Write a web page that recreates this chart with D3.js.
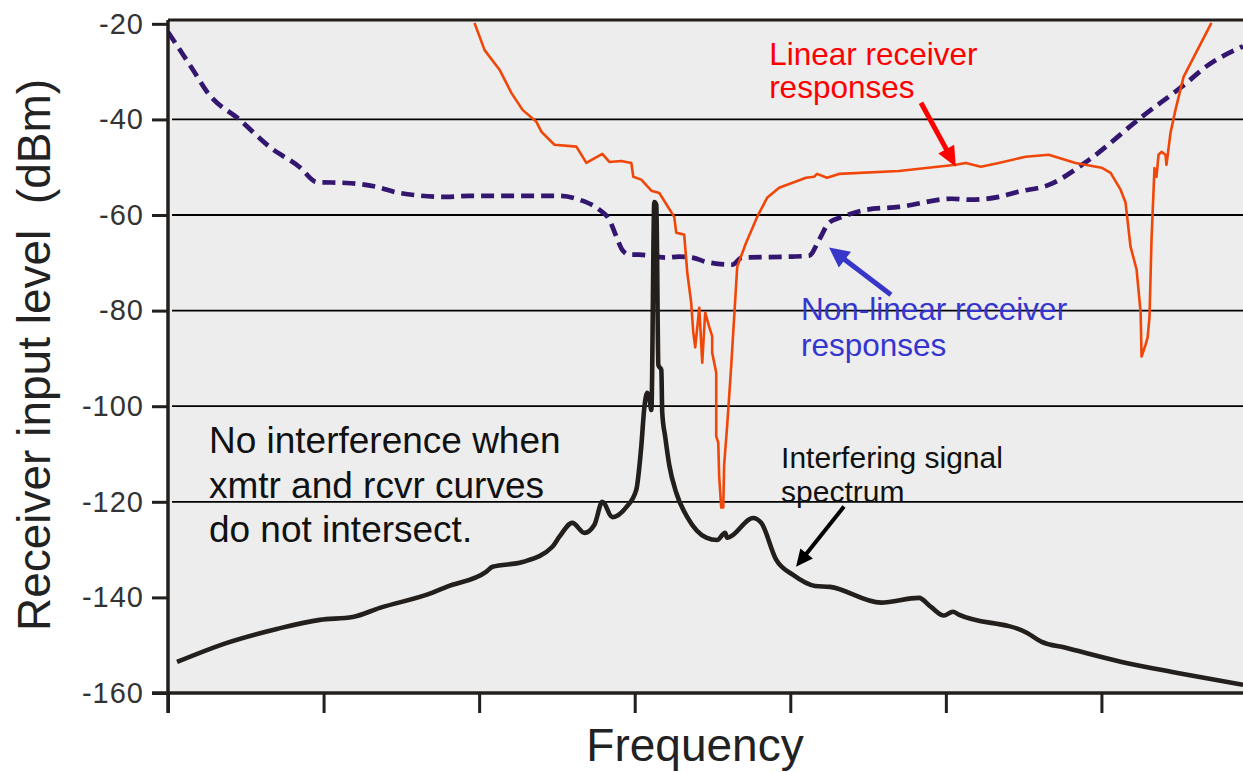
<!DOCTYPE html>
<html>
<head>
<meta charset="utf-8">
<script src="https://cdn.jsdelivr.net/npm/d3@7"></script>
<style>
    html, body { margin: 0; padding: 0; background: #fff; }
    svg { display: block; }
</style>
</head>
<body>
<div id="d3ResponseChart"></div>
<script>
const _WIDTH = 1243
const _HEIGHT = 772
const _MARGIN = {
    top: 20,
    left: 168,
    bottom: 79,
    right: 0,
}

// Data (frequency in arbitrary units, level in dBm)
// ===================================
const yTicks = [-20, -40, -60, -80, -100, -120, -140, -160]
const gridLevels = [-40, -60, -80, -100, -120]
const xTicks = [0, 10, 20, 30, 40, 50, 60]
const xMax = 69.1
const yMin = -160
const yMax = -19.2   // plot frame sits a little above the -20 tick

const nonLinearResponse = [
    [0, -21.7], [1.6, -29.6], [2.57, -34.5], [4.62, -40.1], [6.55, -45.8], [8.47, -50.0],
    [9.56, -53.1], [11.49, -53.3], [13.41, -54.1], [14.89, -55.4], [17.91, -56.2], [19.38, -56.0],
    [25.16, -56.0], [26.44, -56.8], [27.73, -58.9], [28.37, -61.0], [28.82, -64.5], [29.2, -67.3],
    [29.65, -68.3], [30.29, -68.3], [32.03, -68.9], [32.86, -68.7], [33.7, -68.9], [34.6, -69.8],
    [36.26, -70.4], [36.91, -68.9], [40.12, -68.7], [41.21, -68.5], [41.85, -65.2], [42.49, -61.6],
    [43.32, -60.4], [44.87, -58.9], [46.98, -58.3], [50.39, -56.6], [51.67, -56.8], [53.4, -56.2],
    [54.69, -55.1], [56.61, -53.7], [59.18, -48.5], [62.58, -39.5], [65.15, -33.2], [66.88, -28.6],
    [69.1, -24.7],
]

const linearResponse = [
    [19.7, -19.8], [20.35, -25.5], [21.31, -29.6], [22.08, -34.5], [22.79, -38.0], [23.68, -40.5],
    [24.01, -42.6], [24.84, -45.3], [26.25, -45.7], [26.89, -49.1], [27.92, -47.2], [28.37, -48.9],
    [29.14, -48.7], [29.78, -49.1], [29.91, -52.0], [30.42, -52.6], [31.07, -54.9], [31.58, -55.4],
    [32.54, -60.4], [32.67, -63.7], [33.18, -64.1], [33.38, -72.1], [33.63, -78.3], [33.76, -84.4],
    [33.89, -87.7], [34.15, -79.4], [34.34, -90.9], [34.53, -80.4], [34.79, -83.4], [34.98, -85.4],
    [34.98, -88.8], [35.24, -93.0], [35.24, -106.3], [35.37, -107.6], [35.43, -114.7], [35.56, -121.2],
    [35.69, -121.2], [35.75, -112.2], [35.94, -104.2], [36.2, -91.7], [36.59, -70.8], [37.16, -65.8],
    [37.87, -60.4], [38.51, -56.4], [39.28, -54.3], [41.01, -52.2], [41.53, -52.0], [41.72, -51.4],
    [42.36, -52.2], [43.13, -51.4], [46.98, -50.8], [50.64, -49.5], [51.28, -49.1], [52.25, -49.9],
    [53.4, -49.1], [55.13, -47.8], [56.61, -47.4], [58.34, -49.1], [60.01, -50.1], [60.59, -51.2],
    [61.23, -54.7], [61.55, -57.4], [61.87, -66.6], [62.26, -71.4], [62.52, -80.4], [62.58, -89.6],
    [62.84, -87.1], [62.97, -85.6], [63.09, -81.3], [63.22, -65.2], [63.41, -50.2], [63.54, -52.0],
    [63.67, -47.4], [63.86, -46.8], [64.12, -47.4], [64.18, -49.5], [64.44, -42.8], [64.76, -38.0],
    [65.28, -31.1], [67.07, -19.8],
]

const interferingSignal = [
    [0.58, -153.5], [3.79, -149.5], [7.0, -146.6], [9.76, -144.7], [11.87, -144.1], [13.61, -142.2],
    [17.01, -139.0], [17.91, -137.8], [20.47, -134.6], [20.86, -133.6], [22.79, -132.6], [24.71, -129.4],
    [25.16, -127.3], [25.99, -124.4], [26.77, -126.5], [27.41, -124.8], [27.92, -120.0], [28.56, -123.2],
    [29.46, -121.1], [30.1, -117.5], [30.42, -108.5], [30.62, -100.2], [30.81, -97.2], [30.94, -98.3],
    [31.07, -100.8], [31.26, -57.3], [31.39, -57.9], [31.52, -91.4], [31.71, -92.4], [31.77, -101.4],
    [31.96, -106.4], [32.22, -112.3], [32.67, -118.1], [33.38, -123.2], [34.6, -127.5], [35.3, -128.0],
    [35.81, -126.5], [35.94, -127.5], [36.14, -127.3], [37.61, -123.4], [38.13, -124.4], [39.09, -132.1],
    [40.18, -135.3], [41.59, -137.6], [42.55, -137.8], [45.83, -141.1], [48.27, -140.1], [49.04, -142.0],
    [49.87, -143.8], [50.45, -143.0], [50.83, -143.6], [55.2, -147.4], [56.16, -149.3], [57.64, -150.5],
    [61.3, -153.5], [64.89, -155.8], [69.1, -158.3],
]

// Annotation texts and arrows (positions in data units)
const labels = [
    { lines: ["Linear receiver", "responses"], at: [38.64, -28.6], size: 31.5, step: 33, color: "#ff0000" },
    { lines: ["Non-linear receiver", "responses"], at: [40.69, -81.9], size: 31.5, step: 36, color: "#3535cf" },
    { lines: ["Interfering signal", "spectrum"], at: [39.41, -113.0], size: 30, step: 34, color: "#111" },
    { lines: ["No interference when", "xmtr and rcvr curves", "do not intersect."], at: [2.63, -109.8], size: 37, step: 44.5, color: "#111" },
]
const arrows = [
    { from: [48.4, -36.5], to: [50.64, -49.9], color: "#ff0000", width: 5, head: 20, half: 9 },
    { from: [46.47, -76.7], to: [42.49, -66.8], color: "#3636c8", width: 5, head: 20, half: 10 },
    { from: [43.45, -121.0], to: [40.37, -133.6], color: "#000", width: 4, head: 17, half: 8 },
]


const draw = () => {
    const x = d3.scaleLinear().domain([0, xMax]).range([_MARGIN.left, _WIDTH - _MARGIN.right])
    const y = d3.scaleLinear().domain([yMin, yMax]).range([_HEIGHT - _MARGIN.bottom, _MARGIN.top])

    const svg = d3
        .select("#d3ResponseChart")
        .append("svg")
        .attr("width", _WIDTH)
        .attr("height", _HEIGHT)
        .attr("viewBox", `0 0 ${_WIDTH} ${_HEIGHT}`)
        .style("font-family", "'Liberation Sans', Arial, sans-serif")

    svg.append("defs")
        .append("clipPath")
        .attr("id", "plot-clip")
        .append("rect")
        .attr("x", x(0))
        .attr("y", y(yMax))
        .attr("width", x(xMax) - x(0))
        .attr("height", y(yMin) - y(yMax))

    //  Background & grid
    // ===================================
    svg
        .append("rect")
        .attr("x", x(0))
        .attr("y", y(yMax))
        .attr("width", x(xMax) - x(0))
        .attr("height", y(yMin) - y(yMax))
        .attr("fill", "#ededed")

    svg
        .append("g")
        .attr("class", "grid")
        .selectAll("line")
        .data(gridLevels)
        .join("line")
        .attr("x1", x(0) + 4)
        .attr("x2", x(xMax))
        .attr("y1", d => y(d))
        .attr("y2", d => y(d))
        .attr("stroke", "#000")
        .attr("stroke-width", 1.8)

    // top border
    svg
        .append("line")
        .attr("x1", x(0))
        .attr("x2", x(xMax))
        .attr("y1", y(yMax))
        .attr("y2", y(yMax))
        .attr("stroke", "#231f1c")
        .attr("stroke-width", 3)

    //  Curves
    // ===================================
    const chart = svg.append("g").attr("clip-path", "url(#plot-clip)")

    chart
        .append("path")
        .datum(nonLinearResponse)
        .attr("fill", "none")
        .attr("stroke", "#33166f")
        .attr("stroke-width", 4.7)
        .attr("stroke-dasharray", "13,7")
        .attr("d", d3.line().x(d => x(d[0])).y(d => y(d[1])).curve(d3.curveMonotoneX))

    chart
        .append("path")
        .datum(linearResponse)
        .attr("fill", "none")
        .attr("stroke", "#f04608")
        .attr("stroke-width", 2.6)
        .attr("stroke-linejoin", "round")
        .attr("d", d3.line().x(d => x(d[0])).y(d => y(d[1])))

    chart
        .append("path")
        .datum(interferingSignal)
        .attr("fill", "none")
        .attr("stroke", "#231f1c")
        .attr("stroke-width", 4.6)
        .attr("stroke-linejoin", "round")
        .attr("d", d3.line().x(d => x(d[0])).y(d => y(d[1])).curve(d3.curveMonotoneX))

    //  Axes
    // ===================================
    const yAxis = svg
        .append("g")
        .attr("class", "y-axis")
        .attr("transform", `translate(${x(0)},0)`)
        .call(d3.axisLeft(y).tickValues(yTicks).tickSize(16).tickPadding(8))
    yAxis.select(".domain").remove()
    yAxis.selectAll("line").attr("stroke", "#231f1c").attr("stroke-width", 3)
    yAxis
        .selectAll("text")
        .attr("font-size", 29)
        .attr("fill", "#333")
        .attr("letter-spacing", "1px")
        .attr("font-family", "'Liberation Sans', Arial, sans-serif")
        .text(d => d)

    const xAxis = svg
        .append("g")
        .attr("class", "x-axis")
        .attr("transform", `translate(0,${y(yMin)})`)
        .call(d3.axisBottom(x).tickValues(xTicks).tickSize(20).tickFormat(""))
    xAxis.select(".domain").remove()
    xAxis.selectAll("line").attr("stroke", "#231f1c").attr("stroke-width", 3)

    // axis lines, slightly past the corner
    svg
        .append("line")
        .attr("x1", x(0))
        .attr("x2", x(0))
        .attr("y1", y(yMax))
        .attr("y2", y(yMin) + 20)
        .attr("stroke", "#231f1c")
        .attr("stroke-width", 3.5)
    svg
        .append("line")
        .attr("x1", x(0) - 16)
        .attr("x2", x(xMax))
        .attr("y1", y(yMin))
        .attr("y2", y(yMin))
        .attr("stroke", "#231f1c")
        .attr("stroke-width", 3.5)

    svg
        .append("text")
        .attr("transform", `translate(50,355)rotate(-90)`)
        .attr("text-anchor", "middle")
        .attr("font-size", 46)
        .attr("fill", "#222")
        .style("white-space", "pre")
        .text("Receiver input level  (dBm)")

    svg
        .append("text")
        .attr("x", 695)
        .attr("y", 761)
        .attr("text-anchor", "middle")
        .attr("font-size", 46)
        .attr("fill", "#222")
        .text("Frequency")

    //  Annotations
    // ===================================
    const notes = svg.append("g").attr("class", "annotations")
    labels.forEach(l => {
        const t = notes
            .append("text")
            .attr("x", x(l.at[0]))
            .attr("y", y(l.at[1]))
            .attr("font-size", l.size)
            .attr("fill", l.color)
        l.lines.forEach((line, i) => {
            t.append("tspan")
                .attr("x", x(l.at[0]))
                .attr("dy", i === 0 ? 0 : l.step)
                .text(line)
        })
    })

    arrows.forEach(a => {
        const x1 = x(a.from[0]), y1 = y(a.from[1])
        const x2 = x(a.to[0]), y2 = y(a.to[1])
        const len = Math.hypot(x2 - x1, y2 - y1)
        const ux = (x2 - x1) / len, uy = (y2 - y1) / len
        const bx = x2 - ux * a.head, by = y2 - uy * a.head
        notes
            .append("line")
            .attr("x1", x1)
            .attr("y1", y1)
            .attr("x2", bx + ux * 2)
            .attr("y2", by + uy * 2)
            .attr("stroke", a.color)
            .attr("stroke-width", a.width)
        notes
            .append("polygon")
            .attr("points", [
                [x2, y2],
                [bx - uy * a.half, by + ux * a.half],
                [bx + uy * a.half, by - ux * a.half],
            ].map(p => p.join(",")).join(" "))
            .attr("fill", a.color)
    })
}

draw()
</script>
</body>
</html>
